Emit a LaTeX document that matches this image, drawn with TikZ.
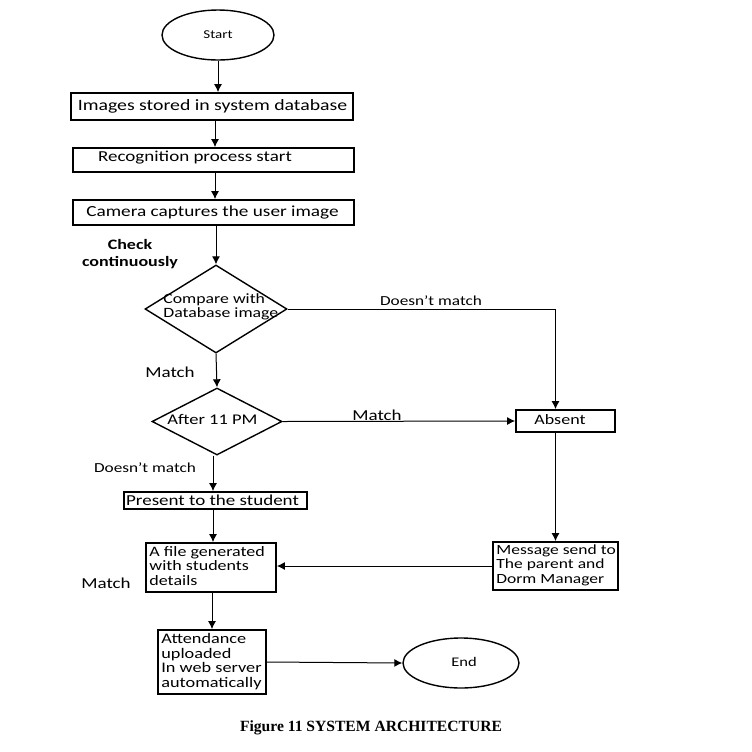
\documentclass[tikz,border=0pt]{standalone}
\usepackage{fontspec}
\setmainfont{Carlito}[FakeStretch=1.25]
\newfontfamily\capfont{Liberation Serif}
\usetikzlibrary{shapes.geometric,arrows.meta,calc}
\begin{document}
\begin{tikzpicture}[x=0.5pt,y=-0.5pt,
  box/.style={draw,line width=0.9pt,rectangle,inner sep=0pt},
  oval/.style={draw,line width=0.7pt,ellipse,inner sep=0pt},
  dia/.style={draw,line width=0.7pt,diamond,inner sep=0pt},
  txt/.style={inner sep=0pt,font=\fontsize{7.2}{7.2}\selectfont},
  ltxt/.style={inner sep=0pt,align=left,font=\fontsize{7.2}{7.2}\selectfont},
  lbl/.style={inner sep=0pt,font=\fontsize{7.6}{8}\selectfont},
  arr/.style={draw,line width=0.5pt,-{Latex[length=4pt,width=4pt]}}]
\useasboundingbox (0,0) rectangle (752,752);
% nodes
\node[oval,minimum width=56pt,minimum height=25pt] (start) at (218,35) {};
\node[txt,font=\fontsize{6}{7}\selectfont] (starttxt) at (218,35) {Start};
\node[box,minimum width=141pt,minimum height=13.5pt] (b1) at (212,106.5) {};
\node[txt,font=\fontsize{7.9}{8}\selectfont] (b1t) at (212.5,106) {Images stored in system database};
\node[box,minimum width=140.5pt,minimum height=12pt] (b2) at (213.5,160) {};
\node[txt,font=\fontsize{7.6}{8}\selectfont] (b2t) at (195,158) {Recognition process start};
\node[box,minimum width=140.5pt,minimum height=12.5pt] (b3) at (213.5,212.5) {};
\node[txt,font=\fontsize{7.7}{8}\selectfont] (b3t) at (212.5,212) {Camera captures the user image};
\node[dia,minimum width=71pt,minimum height=44pt] (d1) at (216,309) {};
\node[ltxt,font=\fontsize{7.1}{7}\selectfont,anchor=west] (d1t) at (163,307) {Compare with\\Database image};
\node[dia,minimum width=65pt,minimum height=33.5pt] (d2) at (217,421.5) {};
\node[txt,font=\fontsize{7.4}{8}\selectfont] (d2t) at (212.5,419) {After 11 PM};
\node[box,minimum width=49.5pt,minimum height=11pt] (absent) at (565.5,421) {};
\node[txt] (abt) at (560,420) {Absent};
\node[box,minimum width=91.5pt,minimum height=8.5pt] (present) at (215.5,500.5) {};
\node[txt,font=\fontsize{7.6}{8}\selectfont] (prt) at (212.5,500) {Present to the student};
\node[box,minimum width=65pt,minimum height=24.5pt] (file) at (211,567.5) {};
\node[ltxt,anchor=west] (filet) at (149,566) {A file generated\\with students\\details};
\node[box,minimum width=62.5pt,minimum height=24pt] (msg) at (555.5,566) {};
\node[ltxt,font=\fontsize{7}{7.2}\selectfont,anchor=west] (msgt) at (496,565) {Message send to\\The parent and\\Dorm Manager};
\node[box,minimum width=54pt,minimum height=32pt] (att) at (212,662) {};
\node[ltxt,font=\fontsize{7.3}{7.3}\selectfont,anchor=west] (attt) at (161,661.5) {Attendance\\uploaded\\In web server\\automatically};
\node[oval,minimum width=58pt,minimum height=25pt] (end) at (461,663) {};
\node[txt,font=\fontsize{6.6}{7}\selectfont] (endt) at (464,662) {End};
% labels
\node[lbl,font=\bfseries\fontsize{7.2}{8.5}\selectfont,align=center] (check) at (130,254) {Check\\continuously};
\node[lbl,font=\fontsize{6.9}{8}\selectfont] (l1) at (431,301) {Doesn’t match};
\node[lbl] (l2) at (170,372) {Match};
\node[lbl] (l3) at (377,415) {Match};
\node[lbl,font=\fontsize{6.9}{8}\selectfont] (l4) at (145,468) {Doesn’t match};
\node[lbl] (l5) at (106,583) {Match};
\node[inner sep=0pt,font=\capfont\bfseries\fontsize{7.8}{9}\selectfont] (cap) at (371,728) {Figure 11 SYSTEM ARCHITECTURE};
% connectors
\draw[arr] (start.south) -- (start.south |- b1.north);
\draw[arr] (b1.south -| 215,0) -- (b2.north -| 215,0);
\draw[arr] (b2.south -| 215,0) -- (b3.north -| 215,0);
\draw[arr] (b3.south -| d1.north) -- (d1.north);
\draw[arr] (d1.east) -| (msg.north |- absent.north);
\draw[arr] (d1.south) -- (d2.north);
\draw[arr] (d2.east) -- (absent.west);
\draw[arr] (d2.south -| 213,0) -- (present.north -| 213,0);
\draw[arr] (present.south -| 213,0) -- (file.north -| 213,0);
\draw[arr] (msg.north |- absent.south) -- (msg.north);
\draw[arr] (msg.west) -- (msg.west -| file.east);
\draw[arr] (file.south -| att.north) -- (att.north);
\draw[arr] (att.east) -- (end.west);
\end{tikzpicture}
\end{document}
